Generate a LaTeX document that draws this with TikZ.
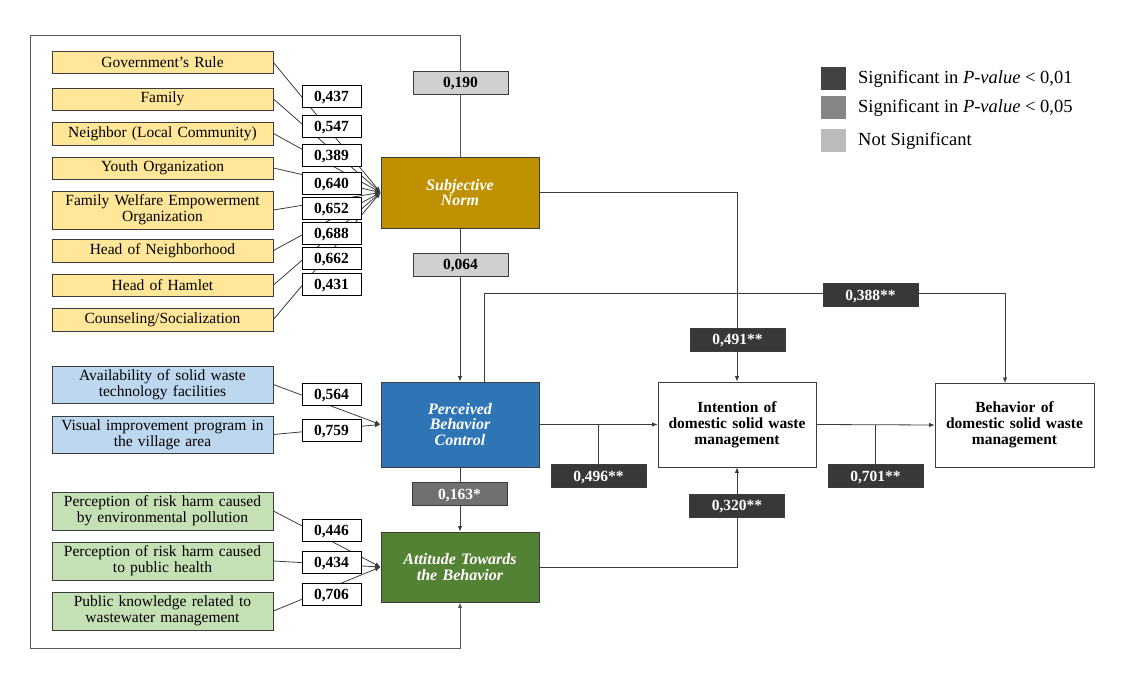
\documentclass[tikz,border=0pt]{standalone}
\usepackage{fontspec}
\setmainfont{Liberation Serif}
\usetikzlibrary{arrows.meta}
\definecolor{ylw}{HTML}{FFE699}
\definecolor{gold}{HTML}{BF9000}
\definecolor{lblue}{HTML}{BDD7EE}
\definecolor{dblue}{HTML}{2E75B6}
\definecolor{lgreen}{HTML}{C5E0B4}
\definecolor{dgreen}{HTML}{548235}
\definecolor{sigdark}{HTML}{383838}
\definecolor{sigmid}{HTML}{707070}
\definecolor{signo}{HTML}{D0D0D0}
\definecolor{edge}{HTML}{3C3C3C}
\tikzset{
  fbox/.style={draw=edge, line width=0.9pt, minimum width=221pt, inner sep=1pt, align=center, font=\fontsize{15.5}{15.7}\selectfont, text width=217pt},
  vbox/.style={draw=black, line width=0.9pt, fill=white, minimum width=59pt, minimum height=22pt, inner sep=0pt, text height=10.5pt, text depth=0pt, font=\fontsize{15.5}{16}\selectfont\bfseries},
  cbox/.style={draw=edge, line width=0.9pt, minimum width=158pt, inner sep=1pt, align=center, text width=150pt, font=\fontsize{16}{15.8}\selectfont\bfseries\itshape, text=white},
  obox/.style={draw=edge, line width=0.9pt, fill=white, minimum width=158pt, minimum height=85pt, inner sep=1pt, align=center, text width=150pt, font=\fontsize{15.5}{15.8}\selectfont\bfseries},
  lbox/.style={draw=edge, line width=0.9pt, minimum width=95pt, minimum height=23pt, inner sep=0pt, text height=10.5pt, text depth=0pt, font=\fontsize{15.5}{16}\selectfont\bfseries},
  dk/.style={lbox, fill=sigdark, text=white},
  md/.style={lbox, fill=sigmid, text=white},
  lt/.style={lbox, fill=signo, text=black},
  conn/.style={draw=edge, line width=0.8pt},
  arr/.style={conn, -{Latex[length=5.5pt,width=4.5pt]}},
  legsq/.style={minimum width=25pt, minimum height=23pt, inner sep=0pt},
  legtx/.style={anchor=west, inner sep=0pt, font=\fontsize{18.5}{20}\selectfont}
}
\begin{document}
\begin{tikzpicture}[x=1pt,y=-1pt]
\useasboundingbox (0,0) rectangle (1124,676);
% factor boxes
\node[fbox, fill=ylw, minimum height=22pt] (y1) at (162.5,62.5) {Government's Rule};
\node[fbox, fill=ylw, minimum height=22pt] (y2) at (162.5,99) {Family};
\node[fbox, fill=ylw, minimum height=23pt] (y3) at (162.5,133.5) {Neighbor (Local Community)};
\node[fbox, fill=ylw, minimum height=22pt] (y4) at (162.5,168) {Youth Organization};
\node[fbox, fill=ylw, minimum height=38pt] (y5) at (162.5,210) {Family Welfare Empowerment\\Organization};
\node[fbox, fill=ylw, minimum height=23pt] (y6) at (162.5,250.5) {Head of Neighborhood};
\node[fbox, fill=ylw, minimum height=22pt] (y7) at (162.5,285) {Head of Hamlet};
\node[fbox, fill=ylw, minimum height=23pt] (y8) at (162.5,319.5) {Counseling/Socialization};
\node[fbox, fill=lblue, minimum height=37pt] (b1) at (162.5,384.5) {Availability of solid waste\\technology facilities};
\node[fbox, fill=lblue, minimum height=37pt] (b2) at (162.5,434.5) {Visual improvement program in\\the village area};
\node[fbox, fill=lgreen, minimum height=38pt] (g1) at (162.5,511) {Perception of risk harm caused\\by environmental pollution};
\node[fbox, fill=lgreen, minimum height=38pt] (g2) at (162.5,561) {Perception of risk harm caused\\to public health};
\node[fbox, fill=lgreen, minimum height=38pt] (g3) at (162.5,611) {Public knowledge related to\\wastewater management};
% constructs
\node[cbox, fill=gold, minimum height=71pt] (sn) at (460,192.5) {Subjective\\Norm};
\node[cbox, fill=dblue, minimum height=85pt] (pbc) at (460,424.5) {Perceived\\Behavior\\Control};
\node[cbox, fill=dgreen, minimum height=70pt] (att) at (460,567) {Attitude Towards\\the Behavior};
\node[obox] (int) at (737,424.5) {Intention of\\domestic solid waste\\management};
\node[obox, minimum width=159pt, minimum height=84pt] (beh) at (1014.5,425) {Behavior of\\domestic solid waste\\management};
% indicator lines
\foreach \n in {y1,y2,y3,y4,y5,y6,y7,y8} \draw[arr] (\n.east) -- (sn.west);
\foreach \n in {b1,b2} \draw[arr] (\n.east) -- (pbc.west);
\foreach \n in {g1,g2,g3} \draw[arr] (\n.east) -- (att.west);
% loadings
\node[vbox] (v1) at (331.5,96) {0,437};
\node[vbox] (v2) at (331.5,126) {0,547};
\node[vbox] (v3) at (331.5,155) {0,389};
\node[vbox] (v4) at (331.5,183) {0,640};
\node[vbox] (v5) at (331.5,208) {0,652};
\node[vbox] (v6) at (331.5,233) {0,688};
\node[vbox] (v7) at (331.5,258) {0,662};
\node[vbox] (v8) at (331.5,284.5) {0,431};
\node[vbox] (v9) at (331.5,394.5) {0,564};
\node[vbox] (v10) at (331.5,430) {0,759};
\node[vbox] (v11) at (331.5,530) {0,446};
\node[vbox] (v12) at (331.5,562) {0,434};
\node[vbox] (v13) at (331.5,594.5) {0,706};
% structural paths
\coordinate (tl) at (30,36);
\coordinate (bl) at (30,648);
\draw[arr, line width=1pt, draw=black!65] (sn.north) -- (sn.north |- tl) -- (tl) -- (bl) -- (bl -| att.south) -- (att.south);
\draw[arr] (sn.south) -- (pbc.north);
\draw[arr] (pbc.south) -- (att.north);
\draw[arr] (sn.east) -- (sn.east -| int.north) -- (int.north);
\coordinate (pbcup) at (484,382);
\coordinate (behtop) at (1005,383);
\draw[arr] (pbcup) -- (484,293) -- (1005,293) -- (behtop);
\draw[arr] (pbc.east) -- (int.west);
\draw[arr] (int.east) -- (beh.west);
\draw[arr] (att.east) -- (att.east -| int.south) -- (int.south);
% path labels
\node[lt] (p190) at (460.5,82.5) {0,190};
\node[lt] (p064) at (460.5,264.5) {0,064};
\node[md] (p163) at (459.5,494) {0,163*};
\node[dk] (p491) at (737.5,339.5) {0,491**};
\node[dk] (p388) at (870.5,295) {0,388**};
\node[dk] (p496) at (598.5,476) {0,496**};
\node[dk] (p701) at (875.5,476) {0,701**};
\node[dk] (p320) at (737,505.5) {0,320**};
\draw[conn] (p496.north) -- (p496.north |- pbc.east);
\draw[conn] (p701.north) -- (p701.north |- int.east);
% legend
\node[legsq, fill=sigdark!95] (l1) at (833.5,79) {};
\node[legsq, fill=sigmid!85] (l2) at (833.5,108) {};
\node[legsq, fill=signo!90!black] (l3) at (833.5,140.5) {};
\node[legtx] (t1) at (858,79) {Significant in \textit{P-value} < 0,01};
\node[legtx] (t2) at (858,108) {Significant in \textit{P-value} < 0,05};
\node[legtx] (t3) at (858,140.5) {Not Significant};
\end{tikzpicture}
\end{document}
